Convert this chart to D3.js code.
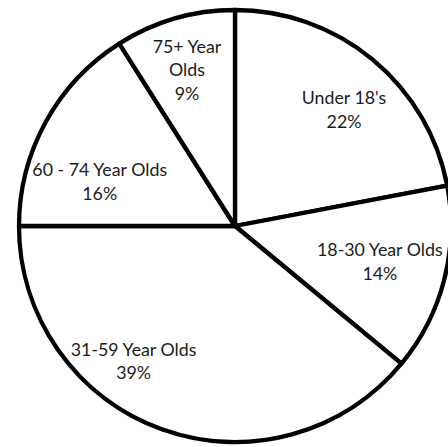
<!DOCTYPE html>
<html>
<head>
<meta charset="utf-8">
<script src="https://cdn.jsdelivr.net/npm/d3@7"></script>
<style>
  html, body { margin: 0; padding: 0; background: #fff; }
  svg { display: block; }
</style>
</head>
<body>
<div class="grafic"></div>
<script>
// data
const categories = ["Under 18's", "18-30 Year Olds", "31-59 Year Olds", "60 - 74 Year Olds", "75+ Year Olds"];
const shares = [22, 14, 39, 16, 9];
// label text, line by line
const labelLines = [
    ["Under 18's", "22%"],
    ["18-30 Year Olds", "14%"],
    ["31-59 Year Olds", "39%"],
    ["60 - 74 Year Olds", "16%"],
    ["75+ Year", "Olds", "9%"]
];
// where each label sits: [angle in degrees, fraction of radius]
const labelPlace = [[43, 0.74], [103.6, 0.69], [217, 0.78], [288.4, 0.66], [343, 0.76]];

let w = 448, h = 447;
let cx = 235, cy = 226, r = 216;
let lineH = 23.5;

let svg = d3.select(".grafic")
    .append("svg")
    .attr("width", w)
    .attr("height", h);

let g = svg.append("g")
    .attr("transform", "translate(" + cx + "," + cy + ")");

let pie = d3.pie().sort(null).value(d => d);
let arcs = pie(shares);

let arc = d3.arc().innerRadius(0).outerRadius(r);

g.selectAll("path")
    .data(arcs)
    .enter()
    .append("path")
    .attr("d", arc)
    .attr("fill", "#fff")
    .attr("stroke", "#000")
    .attr("stroke-width", 4.3)
    .attr("stroke-linejoin", "round");

let labels = g.selectAll("text")
    .data(arcs)
    .enter()
    .append("text")
    .attr("text-anchor", "middle")
    .attr("font-family", "Lato, 'Open Sans', sans-serif")
    .attr("font-size", 17.8)
    .attr("fill", "#1b1b1b")
    .attr("transform", function (d, i) {
        let a = labelPlace[i][0] * Math.PI / 180;
        let rr = labelPlace[i][1] * r;
        return "translate(" + (rr * Math.sin(a)) + "," + (-rr * Math.cos(a)) + ")";
    });

labels.each(function (d, i) {
    let lines = labelLines[i];
    let t = d3.select(this);
    lines.forEach((s, k) => {
        t.append("tspan")
            .attr("x", 0)
            .attr("y", (k - (lines.length - 1) / 2) * lineH)
            .attr("dominant-baseline", "central")
            .text(s);
    });
});
</script>
</body>
</html>
